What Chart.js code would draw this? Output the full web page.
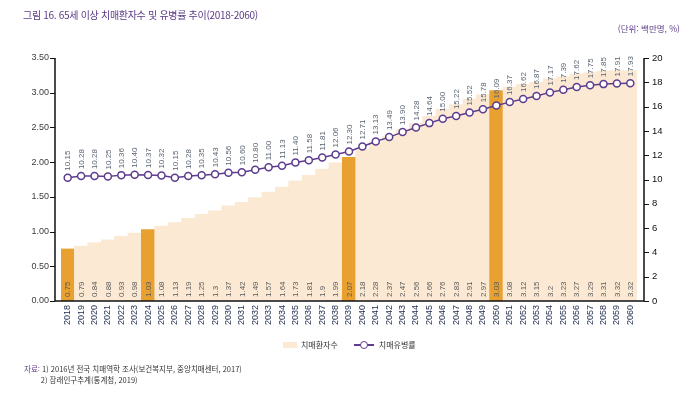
<!DOCTYPE html>
<html lang="ko">

<head>
    <meta charset="UTF-8">
    <title>65세 이상 치매환자수 및 유병률 추이</title>
    <style>
        body {
            margin: 0;
            background: #fff;
            font-family: 'Liberation Sans', 'Noto Sans CJK KR', sans-serif;
        }

        .wrap {
            position: relative;
            width: 691px;
            height: 399px;
        }

        #chart {
            position: absolute;
            left: 0;
            top: 0;
        }

        .title {
            position: absolute;
            left: 23px;
            top: 7px;
            font-size: 10px;
            letter-spacing: -0.3px;
            color: #5b3a87;
            font-family: 'Noto Sans CJK KR', sans-serif;
            white-space: nowrap;
        }

        .unit {
            position: absolute;
            right: 11px;
            top: 22px;
            font-size: 8.5px;
            color: #5b3a87;
            font-family: 'Noto Sans CJK KR', sans-serif;
        }

        .legend {
            position: absolute;
            left: 283px;
            top: 339px;
            display: flex;
            align-items: center;
            font-size: 8px;
            color: #333;
            font-family: 'Noto Sans CJK KR', sans-serif;
        }

        .legend-box {
            width: 14px;
            height: 6px;
            background: #fbe9d4;
            margin-right: 4px;
        }

        .legend-line {
            position: relative;
            width: 20px;
            height: 2px;
            background: #5e3c8e;
            margin: 0 5px 0 16px;
        }

        .legend-line span {
            position: absolute;
            left: 6px;
            top: -3px;
            width: 8px;
            height: 8px;
            border: 1.5px solid #5e3c8e;
            border-radius: 50%;
            background: #fff;
            box-sizing: border-box;
        }

        .source {
            position: absolute;
            left: 24px;
            top: 364px;
            font-size: 7.5px;
            line-height: 10.5px;
            color: #333;
            font-family: 'Noto Sans CJK KR', sans-serif;
        }

        .source b {
            font-weight: normal;
            color: #5b3a87;
        }
    </style>
    <script src="https://cdn.jsdelivr.net/npm/chart.js@4"></script>
</head>

<body>
    <div class="wrap">
        <canvas id="chart" width="691" height="399"></canvas>
        <div class="title">그림 16. 65세 이상 치매환자수 및 유병률 추이(2018-2060)</div>
        <div class="unit">(단위: 백만명, %)</div>
        <div class="legend">
            <div class="legend-box"></div>치매환자수
            <div class="legend-line"><span></span></div>치매유병률
        </div>
        <div class="source">
            <b>자료:</b> 1) 2016년 전국 치매역학 조사(보건복지부, 중앙치매센터, 2017)<br>
            &nbsp;&nbsp;&nbsp;&nbsp;&nbsp;&nbsp;&nbsp;&nbsp;2) 장래인구추계(통계청, 2019)
        </div>
    </div>
    <script>
        // years 2018 ~ 2060
        var years = ['2018', '2019', '2020', '2021', '2022', '2023', '2024', '2025', '2026', '2027',
            '2028', '2029', '2030', '2031', '2032', '2033', '2034', '2035', '2036', '2037',
            '2038', '2039', '2040', '2041', '2042', '2043', '2044', '2045', '2046', '2047',
            '2048', '2049', '2050', '2051', '2052', '2053', '2054', '2055', '2056', '2057',
            '2058', '2059', '2060'];

        // 치매환자수 (백만명)
        var patients = [0.75, 0.79, 0.84, 0.88, 0.93, 0.98, 1.03, 1.08, 1.13, 1.19,
            1.25, 1.3, 1.37, 1.42, 1.49, 1.57, 1.64, 1.73, 1.81, 1.9,
            1.99, 2.07, 2.18, 2.28, 2.37, 2.47, 2.56, 2.66, 2.76, 2.83,
            2.91, 2.97, 3.03, 3.08, 3.12, 3.15, 3.2, 3.23, 3.27, 3.29,
            3.31, 3.32, 3.32];

        // 치매유병률 (%)
        var prevalence = [10.15, 10.28, 10.28, 10.25, 10.36, 10.40, 10.37, 10.32, 10.15, 10.28,
            10.35, 10.43, 10.56, 10.60, 10.80, 11.00, 11.13, 11.40, 11.58, 11.81,
            12.06, 12.30, 12.71, 13.13, 13.49, 13.90, 14.28, 14.64, 15.00, 15.22,
            15.52, 15.78, 16.09, 16.37, 16.62, 16.87, 17.17, 17.39, 17.62, 17.75,
            17.85, 17.91, 17.93];

        // highlighted years
        var highlightYears = ['2018', '2024', '2039', '2050'];

        var leftTicks = [0, 0.5, 1, 1.5, 2, 2.5, 3, 3.5];
        var rightTicks = [0, 2, 4, 6, 8, 10, 12, 14, 16, 18, 20];

        var barColors = years.map(function (y) {
            return highlightYears.indexOf(y) >= 0 ? '#e8a030' : '#fbe9d4';
        });

        var GAP = 6; // bars sit a little inside the axis frame

        // axis frame + tick marks
        var framePlugin = {
            id: 'frame',
            afterDraw: function (chart) {
                var ctx = chart.ctx;
                var a = chart.chartArea;
                var yl = chart.scales.y;
                var yr = chart.scales.y2;
                var L = a.left - GAP, R = a.right + GAP + 1;
                ctx.save();
                ctx.strokeStyle = '#111';
                ctx.lineWidth = 1.5;
                ctx.beginPath();
                ctx.moveTo(L, a.top);
                ctx.lineTo(L, a.bottom);
                ctx.lineTo(R, a.bottom);
                ctx.lineTo(R, a.top);
                ctx.stroke();
                ctx.lineWidth = 1;
                leftTicks.forEach(function (v) {
                    var y = Math.round(yl.getPixelForValue(v)) + 0.5;
                    ctx.beginPath();
                    ctx.moveTo(L - 5, y);
                    ctx.lineTo(L, y);
                    ctx.stroke();
                });
                rightTicks.forEach(function (v) {
                    var y = Math.round(yr.getPixelForValue(v)) + 0.5;
                    ctx.beginPath();
                    ctx.moveTo(R, y);
                    ctx.lineTo(R + 5, y);
                    ctx.stroke();
                });
                ctx.restore();
            }
        };

        // rotated value labels
        var labelPlugin = {
            id: 'valueLabels',
            afterDatasetsDraw: function (chart) {
                var ctx = chart.ctx;
                var a = chart.chartArea;
                ctx.save();
                ctx.font = '8px "Liberation Sans", sans-serif';
                ctx.textBaseline = 'middle';
                ctx.textAlign = 'left';

                var bars = chart.getDatasetMeta(0).data;
                bars.forEach(function (bar, i) {
                    ctx.save();
                    ctx.translate(bar.x + 0.5, a.bottom - 4);
                    ctx.rotate(-Math.PI / 2);
                    ctx.fillStyle = '#5a5a5a';
                    ctx.fillText(String(patients[i]), 0, 0);
                    ctx.restore();
                });

                var pts = chart.getDatasetMeta(1).data;
                pts.forEach(function (p, i) {
                    ctx.save();
                    ctx.translate(p.x + 0.5, p.y - 7);
                    ctx.rotate(-Math.PI / 2);
                    ctx.fillStyle = '#5a6472';
                    ctx.fillText(prevalence[i].toFixed(2), 0, 0);
                    ctx.restore();
                });
                ctx.restore();
            }
        };

        var ctx = document.getElementById('chart').getContext('2d');
        var chart = new Chart(ctx, {
            data: {
                labels: years,
                datasets: [
                    {
                        type: 'bar',
                        label: '치매환자수',
                        data: patients,
                        backgroundColor: barColors,
                        borderWidth: 0,
                        barPercentage: 1,
                        categoryPercentage: 1,
                        yAxisID: 'y',
                        order: 2
                    },
                    {
                        type: 'line',
                        label: '치매유병률',
                        data: prevalence,
                        borderColor: '#5e3c8e',
                        borderWidth: 1.5,
                        pointRadius: 3.5,
                        pointBackgroundColor: '#fff',
                        pointBorderColor: '#5e3c8e',
                        pointBorderWidth: 1.5,
                        tension: 0,
                        yAxisID: 'y2',
                        order: 1
                    }
                ]
            },
            options: {
                responsive: false,
                animation: false,
                layout: {
                    padding: { top: 58, bottom: 68, left: 0, right: 0 }
                },
                plugins: {
                    legend: { display: false },
                    tooltip: { enabled: false }
                },
                scales: {
                    x: {
                        grid: { display: false, drawTicks: false },
                        border: { display: false },
                        ticks: {
                            autoSkip: false,
                            minRotation: 90,
                            maxRotation: 90,
                            padding: 4,
                            color: '#1d2a4a',
                            font: { family: 'Liberation Sans', size: 9 }
                        },
                        afterFit: function (s) { s.height = 30; }
                    },
                    y: {
                        position: 'left',
                        min: 0,
                        max: 3.5,
                        grid: { display: false, drawTicks: false },
                        border: { display: false },
                        ticks: {
                            stepSize: 0.5,
                            padding: 12,
                            color: '#3c3c3c',
                            font: { family: 'Liberation Sans', size: 9 },
                            callback: function (v) { return v.toFixed(2); }
                        },
                        afterFit: function (s) { s.width = 61; }
                    },
                    y2: {
                        position: 'right',
                        min: 0,
                        max: 20,
                        grid: { display: false, drawTicks: false },
                        border: { display: false },
                        ticks: {
                            stepSize: 2,
                            padding: 15,
                            color: '#111',
                            font: { family: 'Liberation Sans', size: 9.5 }
                        },
                        afterFit: function (s) { s.width = 54; }
                    }
                }
            },
            plugins: [framePlugin, labelPlugin]
        });
    </script>
</body>

</html>
